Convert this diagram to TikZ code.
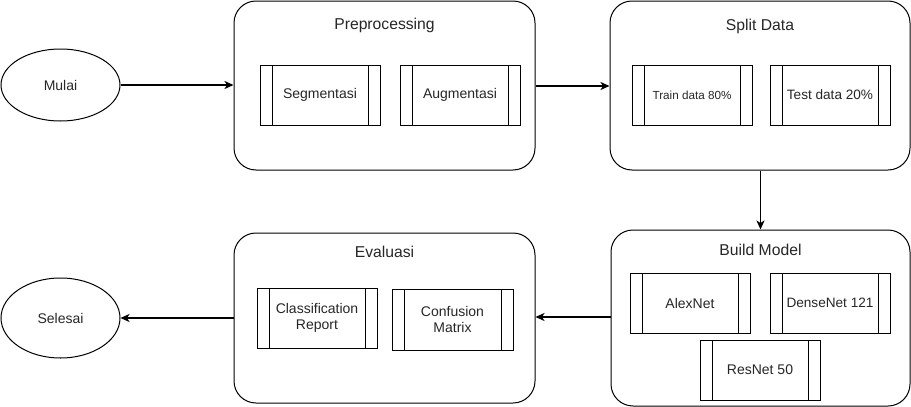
\documentclass[tikz,border=0pt]{standalone}
\usepackage{fontspec}
\setmainfont{Liberation Sans}
\usetikzlibrary{shapes.geometric,arrows.meta}
\begin{document}
\begin{tikzpicture}[x=1pt,y=-1pt,
  every node/.style={font=\fontsize{14}{16.5}\selectfont, text=black!85, inner sep=0pt, align=center},
  term/.style={draw, line width=1pt, ellipse, minimum width=119pt, minimum height=72pt},
  container/.style={draw, line width=1pt, rounded corners=22pt},
  title/.style={font=\fontsize{15.7}{18}\selectfont},
  procbox/.style={draw, line width=1pt, minimum width=120pt, minimum height=60pt,
    path picture={
      \draw[line width=1pt] ([xshift=12pt]path picture bounding box.north west) -- ([xshift=12pt]path picture bounding box.south west);
      \draw[line width=1pt] ([xshift=-12pt]path picture bounding box.north east) -- ([xshift=-12pt]path picture bounding box.south east);
    }},
  flow/.style={line width=1.6pt, -{Stealth[length=9pt,width=8pt,inset=2.5pt]}}
]
\useasboundingbox (0,0) rectangle (911,407);
% terminals
\node[term] (mulai) at (60.5,85) {Mulai};
\node[term, minimum height=80pt] (selesai) at (60.5,318) {Selesai};
% containers
\node[container, minimum width=301pt, minimum height=169pt] (prep) at (384.5,85.5) {};
\node[container, minimum width=300pt, minimum height=169pt] (split) at (760,85.5) {};
\node[container, minimum width=299pt, minimum height=176pt] (build) at (760.5,318) {};
\node[container, minimum width=301pt, minimum height=170pt] (eval) at (384.5,318) {};
% titles
\node[title] (preptitle) at (384.5,25.5) {Preprocessing};
\node[title] (splittitle) at (760,26) {Split Data};
\node[title] (buildtitle) at (760.5,250) {Build Model};
\node[title] (evaltitle) at (384.5,252) {Evaluasi};
% process boxes
\node[procbox] (seg) at (320,95) {Segmentasi};
\node[procbox] (aug) at (460,95) {Augmentasi};
\node[procbox, font=\fontsize{11.7}{14}\selectfont] (train) at (692,95) {Train data 80\%};
\node[procbox, font=\fontsize{13.6}{16}\selectfont] (test) at (830,95) {Test data 20\%};
\node[procbox] (alex) at (690,303) {AlexNet};
\node[procbox, font=\fontsize{13.6}{16}\selectfont] (dense) at (830,303) {DenseNet 121};
\node[procbox] (resnet) at (760,370) {ResNet 50};
\node[procbox] (classif) at (317,318) {Classification\\Report};
\node[procbox, minimum width=121pt, minimum height=61pt] (conf) at (452.5,319.5) {Confusion\\Matrix};
% connectors
\draw[flow] (mulai.east) -- (mulai.east -| prep.west);
\draw[flow] ([yshift=-0.5pt]prep.east) -- ([yshift=-0.5pt]split.west);
\draw[flow] ([xshift=0.5pt]split.south) -- ([xshift=0.5pt]split.south |- build.north);
\draw[flow] ([yshift=1pt]build.west) -- ([yshift=1pt]build.west -| eval.east);
\draw[flow] (eval.west) -- (eval.west -| selesai.east);
\end{tikzpicture}
\end{document}
